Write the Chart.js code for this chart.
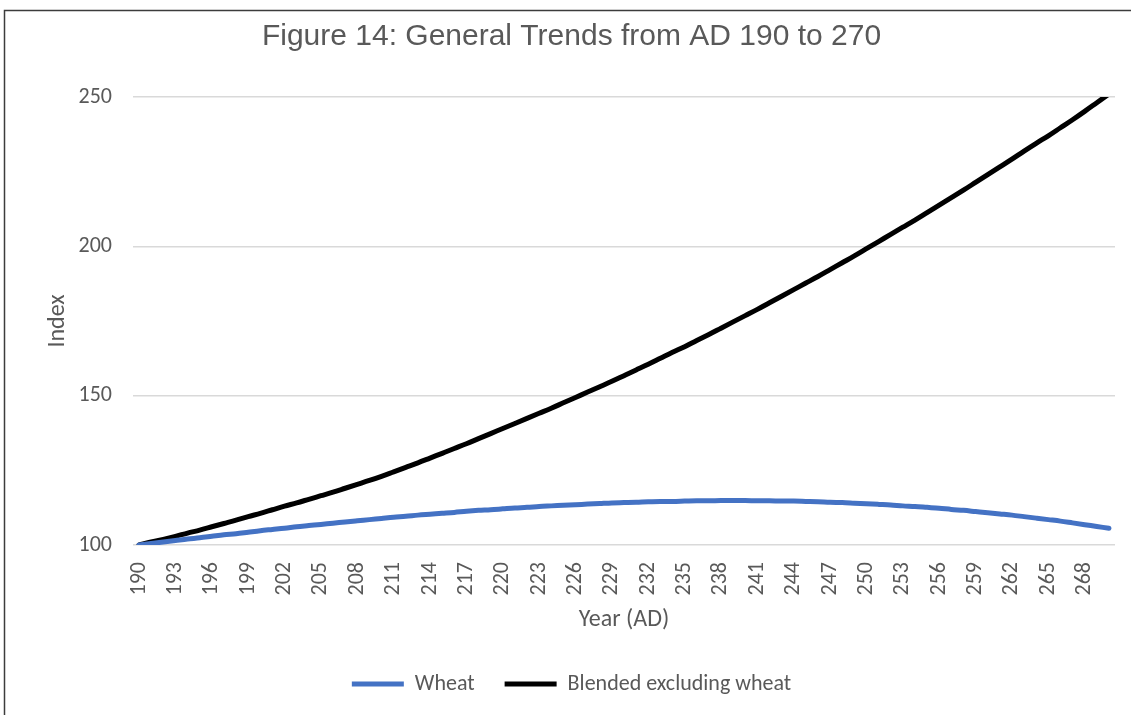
<!DOCTYPE html>
<html>
<head>
<meta charset="utf-8">
<title>General Trends from AD 190 to 270</title>
<script src="https://cdn.jsdelivr.net/npm/chart.js@4.4.1/dist/chart.umd.min.js"></script>
<style>
  html, body { margin: 0; padding: 0; background: #ffffff; }
  #wrap { position: relative; width: 1131px; height: 715px; }
</style>
</head>
<body>
<div id="wrap"><canvas id="chart" width="1131" height="715"></canvas></div>
<script>
// Years on the category axis
const years = [
  190,191,192,193,194,195,196,197,198,199,
  200,201,202,203,204,205,206,207,208,209,
  210,211,212,213,214,215,216,217,218,219,
  220,221,222,223,224,225,226,227,228,229,
  230,231,232,233,234,235,236,237,238,239,
  240,241,242,243,244,245,246,247,248,249,
  250,251,252,253,254,255,256,257,258,259,
  260,261,262,263,264,265,266,267,268,269,
  270
];

// Years that get a printed label on the x axis
const xTickLabels = [190,193,196,199,202,205,208,211,214,217,220,223,226,229,232,235,238,241,244,247,250,253,256,259,262,265,268];

// Index values, one per year
const wheat = [
  100.0,100.5,101.0,101.5,102.0,102.4,102.9,103.4,103.8,104.3,
  104.8,105.2,105.6,106.1,106.5,106.9,107.3,107.7,108.1,108.5,
  108.9,109.3,109.6,110.0,110.3,110.6,110.9,111.3,111.6,111.8,
  112.1,112.4,112.6,112.9,113.1,113.3,113.5,113.7,113.9,114.1,
  114.2,114.3,114.5,114.6,114.6,114.7,114.8,114.8,114.9,114.9,
  114.9,114.8,114.8,114.7,114.7,114.6,114.5,114.3,114.2,114.0,
  113.8,113.6,113.4,113.1,112.9,112.6,112.3,111.9,111.6,111.2,
  110.8,110.4,110.0,109.5,109.0,108.5,108.0,107.4,106.8,106.2,
  105.6
];

const blendedExWheat = [
  100.0,101.0,101.9,102.9,104.0,105.0,106.1,107.2,108.3,109.5,
  110.6,111.8,113.0,114.1,115.3,116.5,117.7,119.0,120.3,121.6,
  123.0,124.5,126.0,127.5,129.1,130.7,132.3,133.9,135.6,137.3,
  139.0,140.7,142.4,144.1,145.8,147.6,149.4,151.2,153.0,154.8,
  156.7,158.6,160.5,162.5,164.5,166.4,168.5,170.5,172.6,174.7,
  176.8,178.9,181.1,183.3,185.5,187.7,189.9,192.2,194.5,196.8,
  199.2,201.6,204.0,206.4,208.8,211.3,213.8,216.3,218.8,221.4,
  224.0,226.6,229.2,231.9,234.5,237.0,239.7,242.4,245.2,248.1,
  251.0
];

// Value axis range and gridline step
const yMin = 100;
const yMax = 250;
const yStep = 50;

const textColor = '#595959';
const bodyFont = 'Carlito, Lato, "Noto Sans", sans-serif';

// White background and the thin outer frame (top and left edges)
const framePlugin = {
  id: 'frame',
  beforeDraw(chart) {
    const ctx = chart.ctx;
    ctx.save();
    ctx.fillStyle = '#ffffff';
    ctx.fillRect(0, 0, chart.width, chart.height);
    ctx.strokeStyle = '#3c3c3c';
    ctx.lineWidth = 1.5;
    ctx.beginPath();
    ctx.moveTo(4.5, chart.height);
    ctx.lineTo(4.5, 10.5);
    ctx.lineTo(chart.width, 10.5);
    ctx.stroke();
    ctx.restore();
  }
};

new Chart(document.getElementById('chart'), {
  type: 'line',
  data: {
    labels: years.map(String),
    datasets: [
      {
        label: 'Wheat',
        data: wheat,
        borderColor: '#4472C4',
        backgroundColor: '#4472C4',
        borderWidth: 5,
        borderCapStyle: 'round',
        borderJoinStyle: 'round',
        pointRadius: 0,
        pointHoverRadius: 0,
        cubicInterpolationMode: 'monotone',
        clip: 0
      },
      {
        label: 'Blended excluding wheat',
        data: blendedExWheat,
        borderColor: '#000000',
        backgroundColor: '#000000',
        borderWidth: 5,
        borderCapStyle: 'round',
        borderJoinStyle: 'round',
        pointRadius: 0,
        pointHoverRadius: 0,
        cubicInterpolationMode: 'monotone',
        clip: 0
      }
    ]
  },
  options: {
    responsive: false,
    animation: false,
    devicePixelRatio: 1,
    layout: { padding: { left: 28, right: 16, top: 0, bottom: 10 } },
    plugins: {
      title: {
        display: true,
        text: 'Figure 14: General Trends from AD 190 to 270',
        color: textColor,
        font: { family: '"Liberation Sans", Arial, sans-serif', size: 30, weight: 'normal' },
        padding: { top: 19, bottom: 42 }
      },
      legend: {
        display: true,
        position: 'bottom',
        labels: {
          color: textColor,
          font: { family: bodyFont, size: 22 },
          usePointStyle: true,
          pointStyle: 'line',
          pointStyleWidth: 52,
          padding: 30
        }
      },
      tooltip: { enabled: false }
    },
    scales: {
      x: {
        offset: true,
        grid: { display: false, drawTicks: false },
        border: { display: false },
        ticks: {
          autoSkip: false,
          minRotation: 90,
          maxRotation: 90,
          padding: 17,
          color: textColor,
          font: { family: bodyFont, size: 22 },
          callback: function (value, index) {
            const yr = years[index];
            return xTickLabels.includes(yr) ? String(yr) : '';
          }
        },
        title: {
          display: true,
          text: 'Year (AD)',
          color: textColor,
          font: { family: bodyFont, size: 24 },
          padding: { top: 4, bottom: 9 }
        },
        afterFit(scale) {
          scale.height = 98;
          scale.paddingLeft = 0;
          scale.paddingRight = 0;
        }
      },
      y: {
        min: yMin,
        max: yMax,
        grid: { color: '#d9d9d9', lineWidth: 1.5, drawTicks: false },
        border: { display: false },
        ticks: {
          stepSize: yStep,
          padding: 21,
          color: textColor,
          font: { family: bodyFont, size: 22 }
        },
        title: {
          display: true,
          text: 'Index',
          color: textColor,
          font: { family: bodyFont, size: 24 },
          padding: { top: 16, bottom: 4 }
        },
        afterFit(scale) { scale.width = 105; }
      }
    }
  },
  plugins: [framePlugin]
});
</script>
</body>
</html>
